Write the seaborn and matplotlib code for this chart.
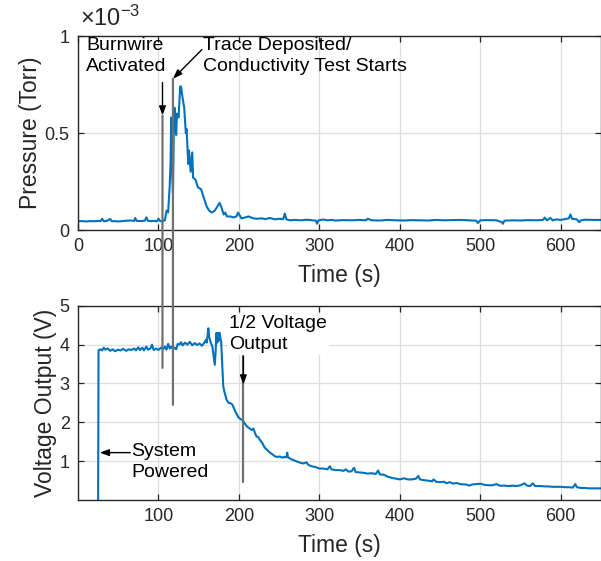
import numpy as np
import pandas as pd
import matplotlib
matplotlib.use('Agg')
import matplotlib.pyplot as plt
import seaborn as sns
from matplotlib.patches import ConnectionPatch

# Pressure trace (values in units of 1e-3 Torr)
time_p = [0, 5, 10, 15, 20, 25, 28, 30, 32, 36, 40, 42, 46, 50, 55, 60, 65, 70, 71, 73,
          78, 83, 85, 87, 90, 95, 98, 100, 102, 105, 108, 110, 112, 114, 115, 116, 117, 118,
          119, 120, 121, 122, 123, 125, 127, 128, 130, 132, 134, 135, 137, 138, 140, 142,
          143, 146, 149, 153, 156, 160, 163, 166, 170, 173, 176, 178, 181, 183, 185, 189,
          193, 197, 199, 203, 208, 212, 218, 222, 228, 233, 238, 245, 250, 255, 257, 259,
          263, 270, 277, 285, 292, 296, 297, 299, 305, 310, 315, 320, 330, 340, 350, 358,
          360, 365, 375, 385, 395, 405, 415, 425, 435, 445, 455, 465, 475, 485, 495, 497,
          500, 510, 520, 527, 528, 530, 540, 550, 560, 570, 578, 580, 583, 587, 590, 595,
          600, 605, 610, 612, 614, 620, 623, 625, 630, 640, 650]
pressure = [0.045, 0.046, 0.044, 0.046, 0.045, 0.047, 0.046, 0.058, 0.045, 0.047, 0.057,
            0.045, 0.046, 0.044, 0.046, 0.048, 0.049, 0.047, 0.062, 0.047, 0.046, 0.048,
            0.065, 0.047, 0.046, 0.047, 0.045, 0.058, 0.046, 0.045, 0.05, 0.1, 0.09, 0.23,
            0.35, 0.58, 0.3, 0.19, 0.5, 0.63, 0.55, 0.49, 0.6, 0.58, 0.74, 0.74, 0.68, 0.63,
            0.5, 0.52, 0.34, 0.41, 0.3, 0.4, 0.27, 0.26, 0.22, 0.21, 0.17, 0.12, 0.1, 0.09,
            0.1, 0.12, 0.14, 0.12, 0.08, 0.09, 0.07, 0.07, 0.065, 0.07, 0.09, 0.06, 0.065,
            0.07, 0.06, 0.058, 0.06, 0.056, 0.062, 0.055, 0.058, 0.056, 0.085, 0.055, 0.05,
            0.052, 0.05, 0.053, 0.05, 0.048, 0.032, 0.05, 0.054, 0.05, 0.052, 0.049, 0.051,
            0.05, 0.052, 0.05, 0.058, 0.05, 0.049, 0.052, 0.05, 0.049, 0.051, 0.05, 0.049,
            0.052, 0.05, 0.051, 0.052, 0.05, 0.048, 0.036, 0.05, 0.051, 0.05, 0.04, 0.032,
            0.048, 0.05, 0.049, 0.051, 0.05, 0.052, 0.064, 0.05, 0.062, 0.05, 0.055, 0.052,
            0.056, 0.06, 0.08, 0.058, 0.055, 0.04, 0.05, 0.053, 0.052, 0.052]

# Voltage output trace (V)
time_v = [25, 25.5, 28, 30, 32, 34, 37, 40, 43, 46, 50, 53, 56, 60, 63, 66, 70, 72, 75, 77,
          80, 82, 85, 87, 90, 92, 94, 97, 100, 103, 106, 108, 110, 112, 114, 116, 118, 120,
          122, 124, 126, 128, 130, 133, 136, 139, 142, 145, 148, 151, 154, 157, 159, 160,
          162, 163, 165, 167, 168, 170, 171, 172, 173, 174, 175, 176, 178, 179, 180.5, 182,
          184.7, 187, 189, 192, 195, 197, 199, 202, 205, 207, 209.6, 212, 214, 216, 218,
          220, 222, 224, 226, 229, 232, 235, 238.5, 242, 245, 248, 251, 254, 257, 259, 260,
          261, 265, 270, 276, 280, 284, 286, 290, 295, 300, 305, 310, 313, 315, 320, 325,
          330, 333, 336, 340, 343, 345, 350, 355, 360, 365, 370, 373, 375, 380, 385, 390,
          395, 400, 405, 410, 415, 420, 423, 425, 430, 435, 440, 442, 445, 450, 455, 458,
          462, 466, 470, 475, 480, 483, 486, 490, 495, 500, 505, 510, 515, 520, 524, 530,
          535, 540, 545, 550, 555, 558, 562, 565, 568, 575, 580, 585, 590, 595, 600, 605,
          610, 615, 618, 620, 625, 630, 635, 640, 645, 650]
voltage = [0.0, 3.85, 3.88, 3.85, 3.92, 3.87, 3.9, 3.84, 3.88, 3.83, 3.87, 3.85, 3.89, 3.84,
           3.88, 3.86, 3.9, 3.85, 3.93, 3.86, 3.92, 3.85, 3.95, 3.87, 3.9, 4.0, 3.86, 3.9,
           3.86, 3.92, 3.88, 3.95, 3.87, 4.02, 3.9, 3.95, 3.88, 3.92, 3.88, 4.02, 4.0, 4.06,
           3.98, 4.05, 4.0, 4.07, 3.98, 4.04, 3.99, 4.03, 3.97, 4.05, 4.12, 4.05, 4.42, 4.2,
           4.05, 3.95, 3.8, 3.48, 3.8, 4.3, 4.05, 4.3, 4.1, 4.3, 4.05, 3.6, 2.93, 2.78, 2.58,
           2.5, 2.5, 2.45, 2.3, 2.22, 2.14, 2.08, 2.05, 1.98, 1.9, 1.86, 1.83, 1.8, 1.84,
           1.72, 1.63, 1.62, 1.55, 1.47, 1.35, 1.29, 1.22, 1.17, 1.12, 1.11, 1.12, 1.09,
           1.11, 1.1, 1.22, 1.1, 1.05, 1.01, 0.96, 0.94, 0.97, 0.91, 0.87, 0.85, 0.81, 0.81,
           0.79, 0.87, 0.79, 0.77, 0.77, 0.75, 0.79, 0.73, 0.74, 0.83, 0.72, 0.71, 0.7, 0.68,
           0.69, 0.67, 0.76, 0.66, 0.65, 0.6, 0.57, 0.55, 0.53, 0.56, 0.53, 0.53, 0.55, 0.62,
           0.53, 0.51, 0.5, 0.48, 0.53, 0.47, 0.46, 0.47, 0.43, 0.46, 0.42, 0.44, 0.41, 0.4,
           0.4, 0.37, 0.4, 0.41, 0.42, 0.39, 0.38, 0.38, 0.41, 0.37, 0.37, 0.36, 0.37, 0.36,
           0.38, 0.43, 0.37, 0.36, 0.43, 0.36, 0.36, 0.35, 0.35, 0.34, 0.34, 0.34, 0.33,
           0.33, 0.32, 0.41, 0.33, 0.31, 0.31, 0.3, 0.3, 0.3, 0.3]

# Event times (s)
burnwire_t = 105
trace_t = 118
half_v_t = 205.5
powered_t = 27

df_p = pd.DataFrame({'Time (s)': time_p, 'Pressure': pressure})
df_v = pd.DataFrame({'Time (s)': time_v, 'Voltage': voltage})

sns.set_style('ticks')
plt.rcParams['font.family'] = ['Liberation Sans', 'DejaVu Sans']
plt.rcParams['mathtext.fontset'] = 'custom'
plt.rcParams['mathtext.rm'] = 'Liberation Sans'
plt.rcParams['mathtext.it'] = 'Liberation Sans'

axis_col = '#262626'
line_col = '#0072BD'
grid_col = '#dedede'

fig = plt.figure(figsize=(6.01, 5.61), dpi=100)
ax1 = fig.add_axes([0.1298, 0.590, 0.8702, 0.3458])
ax2 = fig.add_axes([0.1298, 0.1087, 0.8702, 0.3463])

sns.lineplot(data=df_p, x='Time (s)', y='Pressure', ax=ax1, color=line_col, lw=1.5)
sns.lineplot(data=df_v, x='Time (s)', y='Voltage', ax=ax2, color=line_col, lw=1.5)

for ax in (ax1, ax2):
    ax.set_xlim(0, 650)
    ax.grid(True, color=grid_col, lw=0.9)
    ax.set_axisbelow(True)
    for s in ax.spines.values():
        s.set_color(axis_col)
        s.set_linewidth(1.0)
        s.set_visible(True)
    ax.tick_params(direction='in', length=4, width=0.9, colors=axis_col,
                   labelsize=13, top=True, right=True, labelcolor=axis_col, pad=6)
    ax.set_xlabel('Time (s)', fontsize=16.5, color=axis_col, labelpad=6)

ax1.set_ylim(0, 1)
ax1.set_xticks([0, 100, 200, 300, 400, 500, 600])
ax1.set_yticks([0, 0.5, 1])
ax1.set_yticklabels(['0', '0.5', '1'])
ax1.set_ylabel('Pressure (Torr)', fontsize=16.5, color=axis_col, labelpad=2)
ax1.text(0.003, 1.025, r'$\times10^{-3}$', transform=ax1.transAxes, fontsize=17,
         color=axis_col, ha='left', va='bottom')

ax2.set_ylim(0, 5)
ax2.set_xticks([100, 200, 300, 400, 500, 600])
ax2.set_yticks([1, 2, 3, 4, 5])
ax2.set_ylabel('Voltage Output (V)', fontsize=16.5, color=axis_col, labelpad=2)

# grey event lines spanning both panels
for t, y_top, v_bot in [(burnwire_t, 0.59, 3.4), (trace_t, 0.78, 2.45)]:
    con = ConnectionPatch(xyA=(t, y_top), coordsA=ax1.transData,
                          xyB=(t, v_bot), coordsB=ax2.transData,
                          color='#707070', lw=1.6, zorder=5)
    fig.add_artist(con)
ax2.plot([half_v_t, half_v_t], [3.7, 0.47], color='#707070', lw=1.6, zorder=5)

arrow = dict(arrowstyle='-|>,head_length=0.55,head_width=0.2', color='black', lw=1.0,
             shrinkA=0, shrinkB=0)
txt = dict(fontsize=14, color='black', linespacing=1.3)

ax1.annotate('', xy=(burnwire_t, 0.59), xytext=(burnwire_t, 0.76), arrowprops=arrow, zorder=6)
ax1.annotate('', xy=(trace_t, 0.78), xytext=(154, 0.93), arrowprops=arrow, zorder=6)
ax1.text(10, 0.995, 'Burnwire\nActivated', va='top', ha='left', **txt)
ax1.text(155, 0.995, 'Trace Deposited/\nConductivity Test Starts', va='top', ha='left', **txt)

ax2.annotate('', xy=(half_v_t, 2.97), xytext=(half_v_t, 3.7), arrowprops=arrow, zorder=6)
ax2.annotate('', xy=(powered_t, 1.22), xytext=(65, 1.22), arrowprops=arrow, zorder=6)
ax2.text(188, 4.75, '1/2 Voltage\nOutput', va='top', ha='left', zorder=4,
         bbox=dict(facecolor='white', edgecolor='none', pad=1), **txt)
ax2.text(66, 0.98, 'System\nPowered', va='center', ha='left', **txt)

plt.savefig('out.png', dpi=100)
